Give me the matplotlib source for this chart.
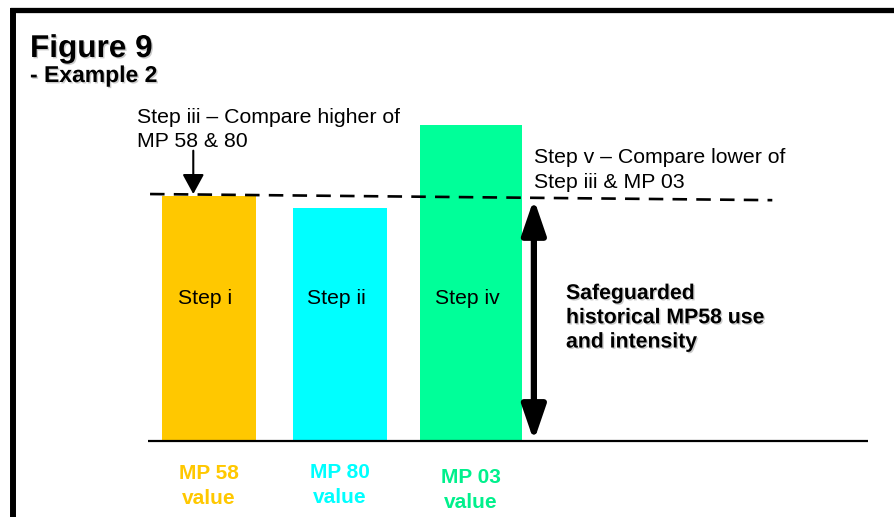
import numpy as np
import matplotlib.pyplot as plt
import matplotlib.patheffects as pe
from matplotlib.lines import Line2D

plt.rcParams['font.family'] = ['Liberation Sans', 'DejaVu Sans']

W, H = 894, 517

categories = ['MP 58\nvalue', 'MP 80\nvalue', 'MP 03\nvalue']
values = [100, 95, 129]
step_labels = ['Step i', 'Step ii', 'Step iv']
bar_colors = ['#FFC800', '#00FFFF', '#00FF99']
label_colors = ['#FFC800', '#00FFFF', '#00F08C']

step_iii = max(values[0], values[1])
step_v = min(step_iii, values[2])


def fx(px):
    return px / W


def fy(py):
    return 1 - py / H


shadow = [pe.withSimplePatchShadow(offset=(1.0, -1.0), shadow_rgbFace='#999999', alpha=0.5)]

fig = plt.figure(figsize=(W / 100, H / 100), dpi=100)
fig.patch.set_facecolor('white')

# frame around the slide
fig.add_artist(Line2D([fx(10), fx(894)], [fy(10), fy(10)], color='black', lw=3.8,
                      solid_capstyle='butt', path_effects=shadow))
fig.add_artist(Line2D([fx(13), fx(13)], [fy(8), fy(517)], color='black', lw=4.3,
                      solid_capstyle='butt', path_effects=shadow))

fig.text(fx(30), fy(57), 'Figure 9', fontsize=22.7, fontweight='bold', va='baseline',
         path_effects=shadow)
fig.text(fx(30), fy(82), '- Example 2', fontsize=16.5, fontweight='bold', va='baseline',
         path_effects=shadow)

# plotting area: baseline sits at y=441px
left, right, bottom, top = 148, 868, 441, 100
ax = fig.add_axes([fx(left), fy(bottom), (right - left) / W, (bottom - top) / H])
px_per_unit = 2.45
ax.set_ylim(0, (bottom - top) / px_per_unit)
ax.set_xlim(-61 / 131, (right - left - 61) / 131)
ax.axis('off')

x = np.arange(len(values))
widths = [0.72, 0.72, 0.78]
ax.bar(x, values, width=widths, color=bar_colors, edgecolor='none', zorder=2)

for xi, lab in zip(x, step_labels):
    ax.text(xi - 0.03, 58, lab, ha='center', va='center', fontsize=15.2, zorder=3)

label_drop = [-9.5, -9, -11]
for xi, lab, c, d in zip(x, categories, label_colors, label_drop):
    ax.text(xi, d, lab, ha='center', va='top', fontsize=15, fontweight='bold',
            color=c, linespacing=1.4)

# baseline
ax.plot([-61 / 131, (right - left - 61) / 131], [0, 0], color='black', lw=1.6,
        solid_capstyle='butt', clip_on=False, zorder=4, path_effects=shadow)

# dashed comparison line (drawn with a slight tilt)
ax.plot([-0.45, 4.3], [step_iii + 0.8, step_iii - 1.7], color='black', lw=1.9,
        linestyle=(0, (5.5, 3.5)), zorder=4)

ax.annotate('', xy=(-0.12, step_iii + 0.8), xytext=(-0.12, step_iii + 18.5),
            arrowprops=dict(arrowstyle='-|>,head_length=0.55,head_width=0.3', color='black',
                            lw=1.5, mutation_scale=22, shrinkA=0, shrinkB=0))

ax.annotate('', xy=(2.48, 0), xytext=(2.48, step_v - 1.2),
            arrowprops=dict(arrowstyle='<|-|>,head_length=0.7,head_width=0.24',
                            color='black', lw=4.5, mutation_scale=30, shrinkA=0, shrinkB=0))

fig.text(fx(137), fy(108), 'Step iii \u2013 Compare higher of\nMP 58 & 80', fontsize=15.3,
         va='top', linespacing=1.35)
fig.text(fx(534), fy(148), 'Step v \u2013 Compare lower of\nStep iii & MP 03', fontsize=15.3,
         va='top', linespacing=1.4)
fig.text(fx(566), fy(284), 'Safeguarded\nhistorical MP58 use\nand intensity', fontsize=15.3,
         fontweight='bold', va='top', linespacing=1.35, path_effects=shadow)

fig.savefig('out.png', dpi=100)
